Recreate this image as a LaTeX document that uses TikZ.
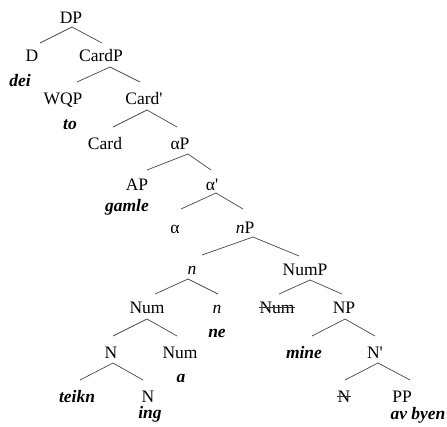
\documentclass[tikz,border=0pt]{standalone}
\usepackage{fontspec}
\setmainfont{Liberation Serif}
\newfontfamily\treefont{Liberation Serif}
\newcommand\tedge[6]{\draw[br] ([xshift=#2pt,yshift=-#3pt]#1.base) -- ([xshift=#5pt,yshift=#6pt]#4.base);}
\begin{document}
\begin{tikzpicture}[x=1pt,y=-1pt,
  lab/.style={anchor=base,inner sep=0pt,font=\treefont\fontsize{17.5}{20}\selectfont},
  wd/.style={anchor=base,inner sep=0pt,font=\treefont\fontsize{17.5}{20}\selectfont\bfseries\itshape},
  br/.style={draw=black!72,line width=0.7pt},
  strike/.style={draw=black!80,line width=0.7pt}]
\useasboundingbox (0,0) rectangle (447,426);
% row 0
\node[lab] (DP) at (71,23) {DP};
% row 1
\node[lab] (D) at (32,61) {D};
\node[lab] (CardP) at (101,61) {CardP};
\node[wd] (dei) at (20,86) {dei};
% row 2
\node[lab] (WQP) at (63,104) {WQP};
\node[lab] (Cardb) at (144,104) {Card\textquotesingle};
\node[wd] (to) at (70,129) {to};
% row 3
\node[lab] (Card) at (105,149) {Card};
\node[lab] (aP) at (180,149) {αP};
% row 4
\node[lab] (AP) at (137,190) {AP};
\node[lab] (ab) at (212,190) {α\textquotesingle};
\node[wd] (gamle) at (127,211) {gamle};
% row 5
\node[lab] (a) at (175,233) {α};
\node[lab] (nP) at (245,233) {\textit{n}P};
% row 6
\node[lab] (n) at (192,274) {\textit{n}};
\node[lab] (NumP) at (305,275) {NumP};
% row 7
\node[lab] (Num) at (147,313) {Num};
\node[lab] (n2) at (217,313) {\textit{n}};
\node[lab] (NumS) at (277,313) {Num};
\node[lab] (NP) at (344,313) {NP};
\node[wd] (ne) at (217,337) {ne};
% row 8
\node[lab] (N) at (111,358) {N};
\node[lab] (Num2) at (180,358) {Num};
\node[wd] (mine) at (304,358) {mine};
\node[lab] (Nb) at (375,358) {N\textquotesingle};
\node[wd] (aa) at (181,382) {a};
% row 9
\node[wd] (teikn) at (77,402) {teikn};
\node[lab] (N2) at (148,402) {N};
\node[lab] (NS) at (344,402) {N};
\node[lab] (PP) at (402,402) {PP};
\node[wd] (ing) at (150,418) {ing};
\node[wd] (avbyen) at (418,419) {av byen};
% strikes
\draw[strike] ([yshift=6pt]NumS.base west) -- ([yshift=6pt]NumS.base east);
\draw[strike] ([yshift=6pt]NS.base west) -- ([yshift=6pt]NS.base east);
% branches
\tedge{DP}{1}{4}{D}{8}{18}
\tedge{DP}{1}{4}{CardP}{1}{18}
\tedge{CardP}{9}{6}{WQP}{14}{22}
\tedge{CardP}{9}{6}{Cardb}{-4}{22}
\tedge{Cardb}{3}{6}{Card}{8}{22}
\tedge{Cardb}{3}{6}{aP}{-3}{22}
\tedge{aP}{8}{5}{AP}{10}{20}
\tedge{aP}{8}{5}{ab}{-1}{20}
\tedge{ab}{4}{3}{a}{6}{24}
\tedge{ab}{4}{3}{nP}{-2}{24}
\tedge{nP}{8}{4}{n}{10}{19}
\tedge{nP}{8}{4}{NumP}{-6}{19}
\tedge{n}{-4}{5}{Num}{8}{19}
\tedge{n}{-4}{5}{n2}{1}{19}
\tedge{NumP}{5}{5}{NumS}{2}{19}
\tedge{NumP}{5}{5}{NP}{-2}{19}
\tedge{Num}{0}{6}{N}{2}{22}
\tedge{Num}{0}{6}{Num2}{-3}{22}
\tedge{NP}{1}{6}{mine}{8}{22}
\tedge{NP}{1}{6}{Nb}{0}{22}
\tedge{N}{2}{5}{teikn}{3}{22}
\tedge{N}{2}{5}{N2}{-5}{22}
\tedge{Nb}{3}{5}{NS}{1}{22}
\tedge{Nb}{3}{5}{PP}{8}{22}
\end{tikzpicture}
\end{document}
